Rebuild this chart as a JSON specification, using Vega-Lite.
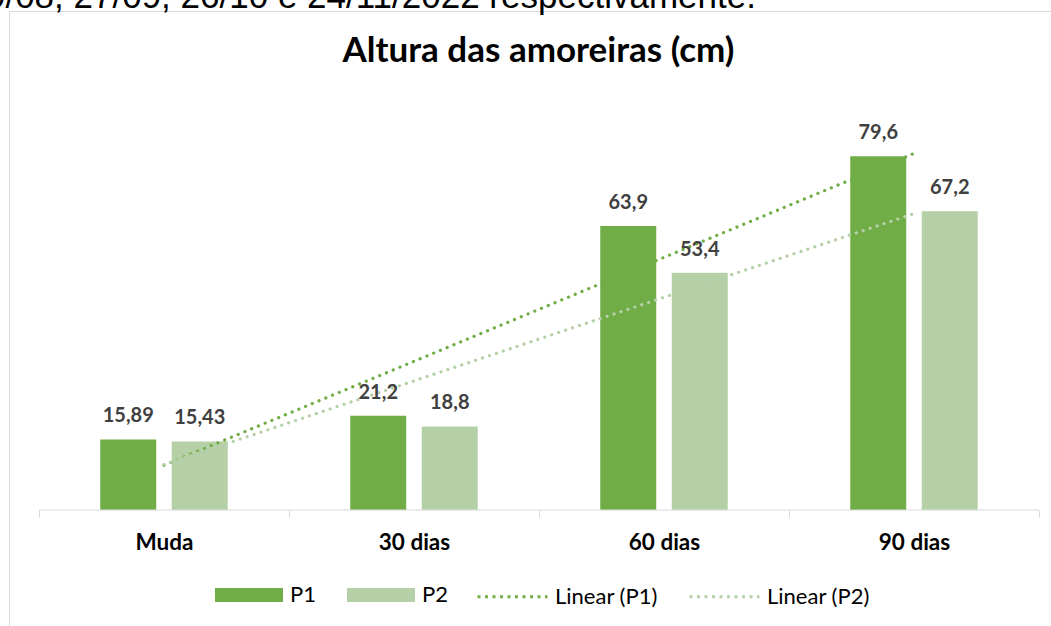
{
  "$schema": "https://vega.github.io/schema/vega-lite/v6.json",
  "autosize": {"type": "none"},
  "padding": {"left": 9, "top": 11, "right": 0, "bottom": 0},
  "width": 1042,
  "height": 615,
  "background": "#ffffff",
  "config": {"view": {"stroke": "#D9D9D9", "strokeWidth": 1}},
  "datasets": {
    "bars": [
      {"cat": "Muda", "serie": "P1", "v": 15.89, "lbl": "15,89"},
      {"cat": "Muda", "serie": "P2", "v": 15.43, "lbl": "15,43"},
      {"cat": "30 dias", "serie": "P1", "v": 21.2, "lbl": "21,2"},
      {"cat": "30 dias", "serie": "P2", "v": 18.8, "lbl": "18,8"},
      {"cat": "60 dias", "serie": "P1", "v": 63.9, "lbl": "63,9"},
      {"cat": "60 dias", "serie": "P2", "v": 53.4, "lbl": "53,4"},
      {"cat": "90 dias", "serie": "P1", "v": 79.6, "lbl": "79,6"},
      {"cat": "90 dias", "serie": "P2", "v": 67.2, "lbl": "67,2"}
    ],
    "trend": [
      {"cat": "Muda", "serie": "Linear (P1)", "v": 10.07},
      {"cat": "90 dias", "serie": "Linear (P1)", "v": 80.22},
      {"cat": "Muda", "serie": "Linear (P2)", "v": 10.22},
      {"cat": "90 dias", "serie": "Linear (P2)", "v": 66.68}
    ],
    "axisline": [{"cat": "Muda", "cat2": "90 dias", "v": 0}]
  },
  "encoding": {
    "x": {"field": "cat", "type": "nominal", "sort": null,
      "scale": {"domain": ["Muda", "30 dias", "60 dias", "90 dias"], "paddingInner": 0, "paddingOuter": 0.084, "align": 0.714},
      "axis": {"title": "Altura das amoreiras (cm)", "titleX": 529, "titleY": -449, "titleAlign": "center", "titleAnchor": null, "titleBaseline": "alphabetic", "titleFont": "Lato", "titleFontWeight": "bold", "titleFontSize": 35, "titleColor": "#000000", "orient": "bottom", "offset": -116, "domain": false, "grid": false, "tickBand": "extent", "tickSize": 7, "tickColor": "#D9D9D9", "tickWidth": 1, "labelFont": "Lato", "labelFontWeight": "bold", "labelFontSize": 22.5, "labelColor": "#000000", "labelPadding": 32, "labelBaseline": "alphabetic", "labelAngle": 0}},
    "y": {"field": "v", "type": "quantitative", "stack": null,
      "scale": {"domain": [-26.1, 112.275], "nice": false},
      "axis": {"domain": false, "ticks": false, "labels": false, "grid": false, "title": "29/08, 27/09, 26/10 e 24/11/2022 respectivamente.", "titleAngle": 0, "titleAlign": "left", "titleBaseline": "alphabetic", "titleX": -43, "titleY": -4, "titleFont": "Liberation Sans", "titleFontSize": 35, "titleFontWeight": "normal", "titleColor": "#000000"}}
  },
  "layer": [
    {
      "data": {"name": "bars"},
      "mark": {"type": "bar"},
      "encoding": {
        "xOffset": {"field": "serie", "type": "nominal", "scale": {"domain": ["P1", "P2"], "paddingInner": 0.217, "paddingOuter": 0.857}},
        "fill": {"field": "serie", "type": "nominal",
          "scale": {"domain": ["P1", "P2"], "range": ["#70AD47", "#B5CFA7"]},
          "legend": {"title": null, "orient": "none", "legendX": 206, "legendY": 550, "direction": "horizontal", "labelFont": "Lato", "labelFontSize": 22, "labelColor": "#000000", "labelOffset": 7, "columnPadding": 31, "symbolType": "M-1,-0.206H1V0.206H-1Z", "symbolSize": 4624, "symbolStrokeWidth": 0}}
      }
    },
    {
      "data": {"name": "trend"},
      "mark": {"type": "line", "strokeWidth": 3.2, "strokeDash": [0.1, 7.2], "strokeCap": "round"},
      "encoding": {
        "stroke": {"field": "serie", "type": "nominal",
          "scale": {"domain": ["Linear (P1)", "Linear (P2)"], "range": ["#70AD47", "#B5CFA7"]},
          "legend": {"title": null, "orient": "none", "legendX": 467, "legendY": 549, "direction": "horizontal", "labelFont": "Lato", "labelFontSize": 22, "labelColor": "#000000", "labelOffset": 6, "columnPadding": 25, "symbolType": "stroke", "symbolSize": 4900, "symbolStrokeWidth": 3, "symbolDash": [3, 4.5]}}
      }
    },
    {
      "data": {"name": "bars"},
      "mark": {"type": "text", "font": "Lato", "fontWeight": "bold", "fontSize": 20, "baseline": "alphabetic", "align": "center", "dy": -17, "color": "#404040"},
      "encoding": {
        "xOffset": {"field": "serie", "type": "nominal", "scale": {"domain": ["P1", "P2"], "paddingInner": 0.217, "paddingOuter": 0.857}},
        "text": {"field": "lbl", "type": "nominal"}
      }
    },
    {
      "data": {"name": "axisline"},
      "mark": {"type": "rule", "color": "#D9D9D9", "strokeWidth": 1},
      "encoding": {
        "x": {"field": "cat", "type": "nominal", "sort": null, "bandPosition": 0,
          "scale": {"domain": ["Muda", "30 dias", "60 dias", "90 dias"], "paddingInner": 0, "paddingOuter": 0.084, "align": 0.714},
          "axis": {"title": "Altura das amoreiras (cm)", "titleX": 529, "titleY": -449, "titleAlign": "center", "titleAnchor": null, "titleBaseline": "alphabetic", "titleFont": "Lato", "titleFontWeight": "bold", "titleFontSize": 35, "titleColor": "#000000", "orient": "bottom", "offset": -116, "domain": false, "grid": false, "tickBand": "extent", "tickSize": 7, "tickColor": "#D9D9D9", "tickWidth": 1, "labelFont": "Lato", "labelFontWeight": "bold", "labelFontSize": 22.5, "labelColor": "#000000", "labelPadding": 32, "labelBaseline": "alphabetic", "labelAngle": 0}},
        "x2": {"field": "cat2", "bandPosition": 1}
      }
    }
  ]
}
